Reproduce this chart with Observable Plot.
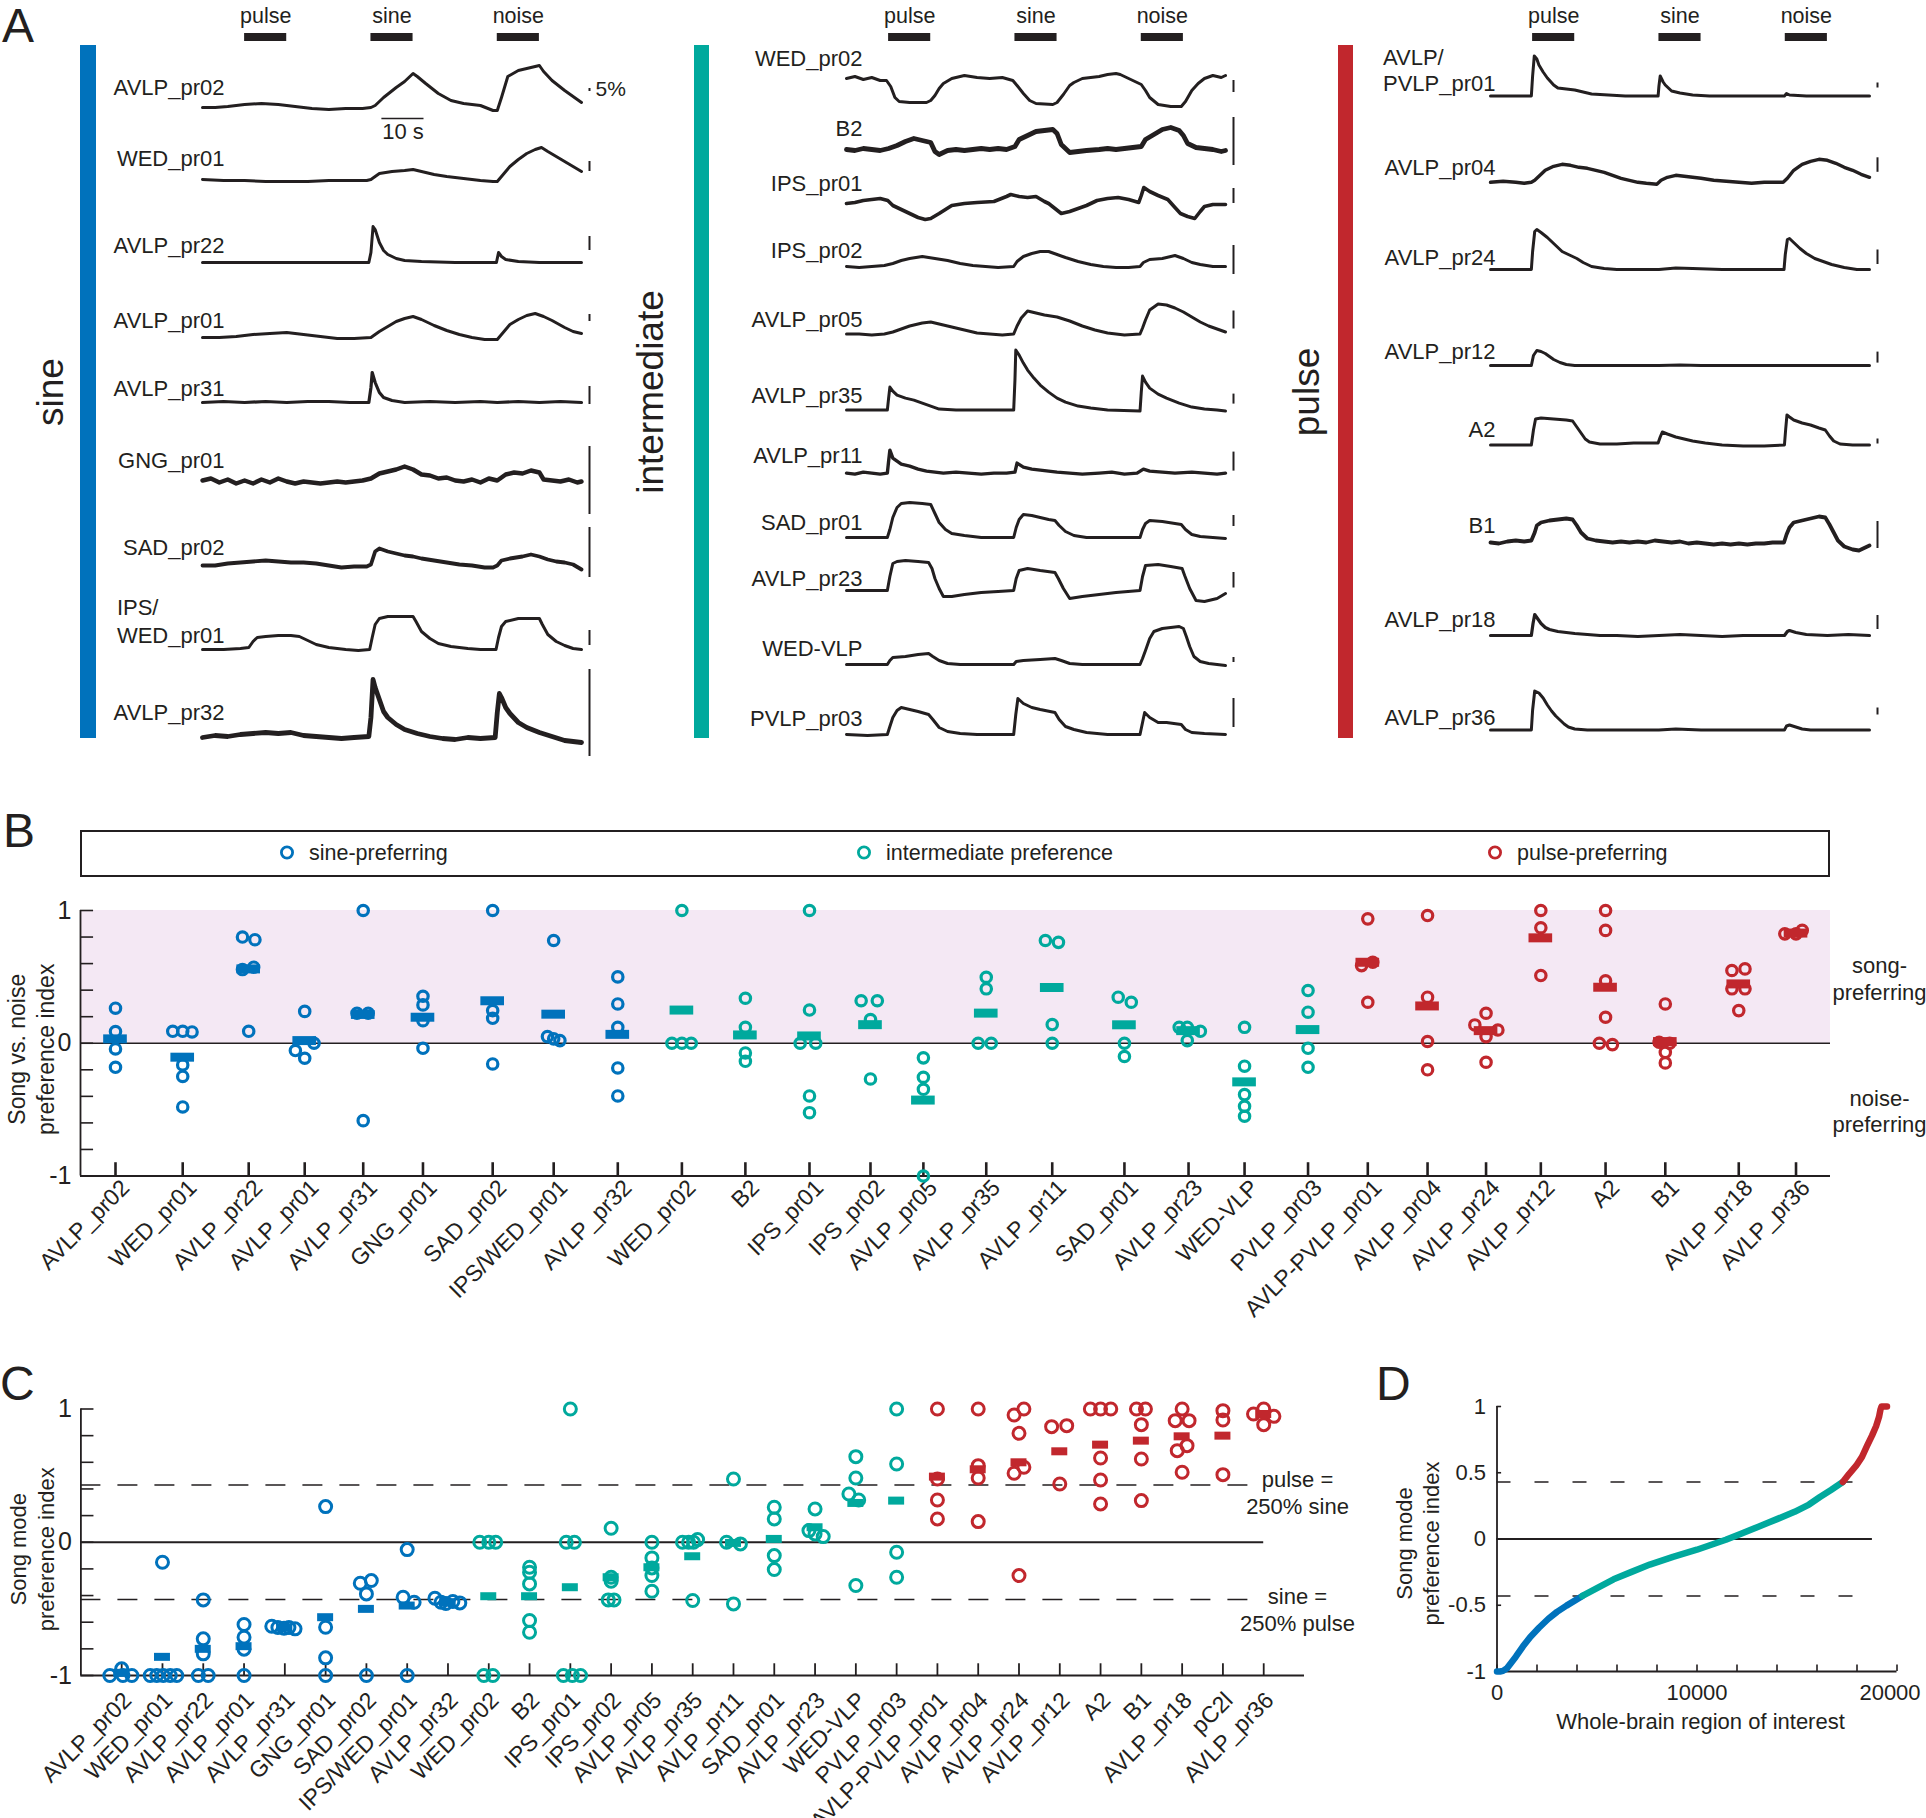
<!DOCTYPE html>
<html><head><meta charset="utf-8">
<script src="https://cdn.jsdelivr.net/npm/d3@7"></script>
<script src="https://cdn.jsdelivr.net/npm/@observablehq/plot@0.6"></script>
<style>
body{margin:0;background:#fff;font-family:'Liberation Sans',Arial,Helvetica,sans-serif;color:#231f20;}
#page{position:relative;width:1926px;height:1818px;overflow:hidden;background:#fff;}
.letter{position:absolute;font-size:48px;line-height:48px;white-space:nowrap;}
.grp{position:absolute;font-size:37px;line-height:37px;white-space:nowrap;transform:translate(-50%,-50%) rotate(-90deg);}
</style></head>
<body><div id="page"></div>
<script>
// ===================== DATA =====================
// ---- Panel A: stimulus epochs (s) ----
const stimuli = [
  {name: "pulse", start: 10, end: 20},
  {name: "sine", start: 40, end: 50},
  {name: "noise", start: 70, end: 80}
];
const sineNames = ["AVLP_pr02","WED_pr01","AVLP_pr22","AVLP_pr01","AVLP_pr31","GNG_pr01","SAD_pr02","IPS/WED_pr01","AVLP_pr32"];
const intermediateNames = ["WED_pr02","B2","IPS_pr01","IPS_pr02","AVLP_pr05","AVLP_pr35","AVLP_pr11","SAD_pr01","AVLP_pr23","WED-VLP","PVLP_pr03"];
const pulseNames = ["AVLP/PVLP_pr01","AVLP_pr04","AVLP_pr24","AVLP_pr12","A2","B1","AVLP_pr18","AVLP_pr36"];

// ---- Panel A traces: [time (s), ΔF/F in row display units] ----
const trAVLP_pr02 = [[0,0],[3,0],[6,1],[10,3],[14,4],[18,3],[22,1],[26,-1],[30,-2],[34,-1],[38,-1],[40,0],[41,2],[43,10],[46,20],[48,26],[50,34],[51,31],[53,24],[56,14],[59,7],[62,4],[66,2],[69,-3],[70,-3],[71,10],[72.5,31],[75,37],[78,40],[80,42],[81,36],[83,27],[86,17],[88,11],[90,5]];
const trWED_pr01 = [[0,0],[5,-1],[10,-1],[15,-2],[20,-2],[25,-2],[30,-1],[35,-1],[39,-1],[40,0],[42,6],[45,8],[48,9],[50,10],[52,8],[55,5],[58,3],[62,1],[66,-1],[69,-2],[70,-2],[71,3],[73,13],[75,20],[77,26],[79,30],[80.5,32],[82,28],[84,23],[86,18],[88,13],[90,8]];
const trAVLP_pr22 = [[0,0],[10,0],[20,0],[30,0],[39.5,0],[40,10],[40.5,36],[41,33],[42,20],[43,12],[44,8],[46,4],[48,2],[52,1],[60,0],[69.8,0],[70.3,10],[71,6],[72,3],[75,1],[80,0],[90,0]];
const trAVLP_pr01 = [[0,0],[4,0],[8,1],[12,3],[16,4],[20,5],[24,3],[28,1],[32,-1],[36,-1],[40,0],[42,6],[44,11],[46,16],[48,19],[50,21],[52,18],[55,12],[58,7],[61,3],[64,0],[67,-2],[70,-2],[71,3],[73,13],[75,18],[77,22],[79,24],[81,21],[83,17],[86,10],[88,6],[90,4]];
const trAVLP_pr31 = [[0,0],[5,1],[10,0],[15,1],[20,0],[25,1],[30,1],[35,0],[39.5,0],[40,15],[40.3,30],[41,20],[42,10],[43,5],[45,2],[48,0],[54,1],[60,0],[66,1],[70,0],[75,1],[80,0],[85,1],[90,0]];
const trGNG_pr01 = [[0,0],[2,2],[4,-2],[6,1],[8,-3],[10,0],[12,-3],[14,1],[16,-2],[18,2],[20,-1],[22,-3],[24,-1],[26,-2],[28,-3],[30,-2],[32,-1],[34,-2],[36,-1],[38,0],[40,2],[42,7],[44,9],[46,11],[48,14],[50,11],[52,6],[54,5],[56,2],[58,3],[60,0],[62,-1],[64,1],[66,-2],[68,2],[70,0],[72,6],[74,8],[76,7],[78,10],[80,8],[81,1],[83,0],[85,-1],[87,1],[89,-2],[90,-1]];
const trSAD_pr02 = [[0,0],[3,0],[6,2],[9,3],[12,4],[15,5],[18,4],[21,3],[24,3],[27,2],[30,0],[33,-2],[36,-1],[39,-1],[40,1],[41,14],[42,17],[44,14],[46,12],[48,10],[50,9],[52,7],[55,5],[58,3],[61,1],[64,0],[67,-2],[69,-2],[70,0],[71,5],[73,7],[76,9],[78,11],[80,9],[82,6],[84,4],[86,3],[88,1],[90,-4]];
const trIPS_WED_pr01 = [[0,0],[5,0],[9,1],[11,2],[12,8],[13,12],[15,13],[18,14],[21,14],[23,13],[25,9],[27,5],[30,2],[34,0],[37,-1],[39.7,0],[40.3,12],[41,25],[42,31],[44,33],[47,33],[50,33],[50.7,28],[52,18],[54,11],[56,6],[59,3],[63,1],[66,0],[69.7,0],[70.3,12],[71,23],[72,28],[75,31],[78,31],[80,31],[80.7,25],[82,15],[84,8],[86,4],[88,1],[90,0]];
const trAVLP_pr32 = [[0,0],[3,2],[6,1],[9,3],[12,4],[15,5],[18,4],[21,5],[24,2],[27,1],[30,0],[33,-1],[36,0],[39.5,1],[40,20],[40.5,58],[41,50],[42,38],[43,26],[44,20],[46,13],[48,8],[51,4],[54,1],[57,-1],[60,-2],[63,0],[66,-1],[69.5,0],[70,25],[70.5,44],[71,40],[72,30],[73,24],[75,15],[77,10],[80,5],[83,1],[86,-3],[90,-5]];

const trWED_pr02 = [[0,2],[2,4],[4,1],[6,3],[8,0],[9.5,0],[10.5,-6],[11.5,-17],[12.5,-21],[15,-22],[19,-22],[20,-20],[21,-15],[22,-8],[23,-3],[25,2],[28,5],[31,3],[34,2],[37,3],[39.5,0],[40.5,-5],[42,-13],[43.5,-20],[45,-23],[49,-24],[50,-22],[51.5,-14],[53,-5],[54,-2],[56,2],[58,3],[60,4],[62,6],[64,7],[65,6],[67,2],[69,-2],[70,-4],[71,-10],[72,-17],[74,-24],[77,-26],[79.5,-26],[80.5,-21],[82,-10],[83.5,-3],[85,2],[87,5],[89,3],[90,5]];
const trB2 = [[0,0],[2,-1],[4,1],[6,0],[8,-1],[10,1],[12,4],[14,8],[16,11],[18,9],[20,7],[21,-2],[22,-5],[24,-1],[26,0],[28,-1],[30,0],[32,1],[34,0],[36,1],[38,0],[40,3],[41,10],[43,14],[45,18],[47,19],[49,20],[50,16],[51,5],[53,-3],[55,-2],[57,-1],[60,0],[62,1],[64,0],[66,1],[68,2],[70,3],[71,10],[73,15],[75,20],[77,22],[79,19],[80,14],[81,6],[83,2],[85,1],[87,0],[89,-2],[90,-1]];
const trIPS_pr01 = [[0,0],[2,1],[4,3],[6,4],[8,5],[9.8,3],[11,-2],[13,-6],[15,-10],[17,-14],[18.7,-16],[20,-15],[22,-10],[25,-2],[28,0],[31,1],[35,2],[38,7],[39,9],[41,7],[43,6],[45,7],[47,2],[48,0],[49.5,-5],[51,-10],[53,-8],[55,-5],[57,-2],[59.5,3],[62,5],[64.5,6],[67,4],[69.4,1],[70,8],[70.6,16],[72,12],[74,8],[76.3,4],[78,-4],[79.3,-10],[81,-13],[82.7,-15],[84,-8],[85,-3],[87,-1],[90,-1]];
const trIPS_pr02 = [[0,0],[3,-1],[6,0],[9,1],[11,3],[13,6],[15,8],[18,10],[21,8],[24,6],[27,3],[30,1],[33,0],[36,-1],[39.7,0],[40.5,5],[42,10],[44,13],[46,15],[48,15],[50,12],[52,9],[55,5],[58,2],[61,0],[64,-1],[67,-1],[69.7,0],[70.5,4],[72,7],[75,8],[78,11],[80,8],[82,4],[84,2],[87,0],[90,0]];
const trAVLP_pr05 = [[0,0],[3,0],[6,-1],[9,0],[11,2],[13,5],[15,8],[18,11],[20,12],[22,10],[25,7],[28,4],[31,1],[34,0],[37,-1],[39.7,0],[40.5,8],[41.5,16],[43,23],[45,21],[47,19],[50,17],[53,13],[56,8],[59,4],[62,1],[66,-1],[69.7,0],[70.3,6],[71,14],[72,24],[74,30],[76,29],[78,26],[80,22],[82,17],[84,12],[86,8],[88,5],[90,2]];
const trAVLP_pr35 = [[0,0],[9.7,0],[10,12],[10.3,23],[11,19],[12,15],[14,12],[16,10],[18,7],[20,4],[22,1],[26,0],[30,0],[39.7,0],[40,30],[40.2,60],[41,55],[42,47],[43,40],[44.5,32],[46,25],[48,18],[50,12],[52,8],[55,4],[58,2],[62,0],[69.7,-1],[70,18],[70.3,34],[71,28],[72,22],[74,16],[76,12],[79,7],[82,3],[85,1],[88,0],[90,-1]];
const trAVLP_pr11 = [[0,0],[2,-1],[4,1],[6,0],[8,-1],[9.7,0],[10,12],[10.3,23],[11,15],[12,12],[13,9],[15,7],[17,4],[19,2],[21,1],[23,0],[26,1],[29,0],[32,-1],[35,0],[38,0],[40,1],[40.5,10],[42,6],[44,4],[46,3],[48,2],[50,1],[53,0],[56,-1],[60,0],[63,1],[66,-1],[69,0],[70.5,4],[72,2],[75,1],[78,0],[82,1],[85,0],[88,-1],[90,0]];
const trSAD_pr01 = [[0,0],[5,0],[9.7,0],[10.3,8],[11,20],[12,30],[13,34],[15,35],[18,34],[20,33],[21,24],[22,15],[23.5,8],[25,4],[28,2],[32,0],[39.7,0],[40.3,10],[41,18],[42,23],[44,22],[46,20],[48,18],[49.5,17],[50.5,12],[52,6],[54,2],[57,0],[69.7,0],[70.3,8],[71,14],[72,17],[75,16],[78,14],[79.5,13],[80.5,8],[82,3],[84,1],[87,0],[90,-1]];
const trAVLP_pr23 = [[0,0],[5,0],[9.7,0],[10.3,14],[11,27],[12,29],[14,30],[17,29],[19.5,28],[20.3,22],[21,12],[22,2],[23,-6],[25,-6],[28,-4],[32,-2],[36,-1],[39.7,0],[40.3,12],[41,20],[43,22],[46,20],[49.5,18],[50.3,12],[51.5,2],[53,-8],[56,-6],[60,-4],[64,-2],[69.7,0],[70.3,14],[71,25],[74,26],[77,24],[79.7,22],[80.3,15],[81.5,2],[83,-10],[85,-11],[88,-8],[90,-3]];
const trWED_VLP = [[0,0],[9.7,0],[10.3,4],[11,7],[14,8],[17,10],[19.5,11],[20.5,8],[22,4],[24,1],[27,0],[39.7,0],[40.3,3],[42,4],[46,5],[49.5,6],[51,4],[53,1],[56,0],[69.7,0],[70.3,6],[71,14],[72,26],[73,33],[75,36],[77,37],[79,38],[80,36],[80.7,28],[81.5,18],[82.5,8],[84,3],[86,1],[90,-1]];
const trPVLP_pr03 = [[0,0],[5,-1],[9.7,0],[10.3,8],[11,17],[12,24],[13,27],[15,25],[17,23],[19.5,20],[20.5,15],[22,7],[24,3],[27,1],[31,0],[39.7,0],[40.2,20],[40.7,36],[42,31],[44,27],[46,25],[49.5,22],[50.5,15],[52,8],[54,5],[57,2],[62,0],[69.7,0],[70.3,12],[70.8,22],[72,17],[74,12],[76,12],[79.5,10],[80.5,5],[82,2],[85,1],[90,0]];

const trAVLP_PVLP_pr01 = [[0,0],[9.7,0],[10,20],[10.4,40],[11,37],[11.5,31],[12.5,24],[13.5,18],[15,11],[16,8],[18,7],[20,6],[22,4],[24,2],[28,1],[32,0],[39.8,0],[40,10],[40.3,20],[41,14],[41.5,11],[43,5],[45,3],[48,1],[52,0],[69.8,0],[70.3,2.5],[71,1],[75,0],[90,0]];
const trAVLP_pr04 = [[0,0],[3,1],[6,0],[8,-1],[9.7,0],[10.5,2],[11.5,6],[13,12],[15,16],[17,18],[19,17],[21,15],[23,14],[25,12],[27,10],[29,7],[31,4],[33,2],[35,0],[37,-1],[39.5,-2],[40.5,2],[42,5],[44,7],[46,6],[48,5],[50,4],[53,2],[56,1],[59,0],[62,-1],[65,0],[69.5,0],[70.5,4],[72,12],[74,18],[76,21],[78,23],[80,22],[82,19],[84,15],[86,12],[88,8],[90,5]];
const trAVLP_pr24 = [[0,0],[9.7,0],[10,18],[10.5,38],[11,40],[12,37],[13.5,32],[15,26],[17,18],[19,14],[20.5,11],[22,7],[24,3],[27,1],[30,0],[40,0],[44,1.5],[48,1],[55,0],[69.7,0],[70,15],[70.5,30],[71,31],[72,27],[73.5,21],[75,16],[77,11],[79,8],[81,5],[84,2],[87,0],[90,0]];
const trAVLP_pr12 = [[0,0],[9.7,0],[10.2,10],[11,15],[12,14],[13,12],[14,9],[15,6],[16.5,3],[18,1],[20,0],[40,0],[45,0.5],[50,0],[70,0],[90,0]];
const trA2 = [[0,0],[5,0],[9.7,0],[10.2,15],[10.7,26],[12,27],[15,26],[18,25],[19.5,24],[20.5,18],[21.5,12],[22.5,6],[23.5,3],[26,1],[30,1],[34,2],[38,2],[39.8,2],[40.3,8],[40.8,13],[42,11],[44,8],[46,6],[48,4],[51,2],[55,0],[60,-1],[65,-1],[69.8,0],[70.1,16],[70.4,30],[71,28],[72,25],[74,22],[76,20],[78,17],[79.5,15],[80.5,9],[81.5,4],[83,1],[86,0],[90,0]];
const trB1 = [[0,0],[2,-1],[4,1],[6,2],[8,1],[9.7,2],[10.5,10],[11,17],[12,20],[14,22],[16,23],[18,24],[19.5,23],[20.5,17],[21.5,10],[23,4],[25,2],[27,1],[29,0],[31,1],[33,0],[35,1],[37,0],[39,2],[41,1],[43,0],[45,1],[47,-1],[49,0],[51,-1],[53,-2],[55,-1],[57,-2],[59,-1],[61,-2],[63,-1],[65,-1],[67,0],[69.7,0],[70.3,8],[71,15],[72,20],[74,22],[76,24],[78,26],[79.5,25],[80.5,18],[81.5,10],[82.5,2],[84,-4],[86,-7],[87.5,-8],[89,-5],[90,-3]];
const trAVLP_pr18 = [[0,0],[9.7,0],[10.1,12],[10.5,21],[11,18],[12,12],[13,8],[14,6],[16,4],[18,3],[20,2],[23,1],[26,0],[30,0],[35,-1],[40,0],[45,1],[50,0],[55,-1],[60,0],[65,0],[69.8,0],[70.5,4],[71,5],[72.5,3],[75,1],[80,0],[85,1],[90,0]];
const trAVLP_pr36 = [[0,0],[9.7,0],[10,20],[10.5,39],[11.5,37],[12.5,32],[13.5,25],[14.5,19],[15.5,14],[16.5,10],[17.5,6],[18.5,3],[20,1],[23,0],[40,0],[44,1],[50,0],[69.8,0],[70.3,4],[71,5],[72.5,3],[74,1],[76,0],[90,0]];

const sineTraces = [trAVLP_pr02, trWED_pr01, trAVLP_pr22, trAVLP_pr01, trAVLP_pr31, trGNG_pr01, trSAD_pr02, trIPS_WED_pr01, trAVLP_pr32];
const intermediateTraces = [trWED_pr02, trB2, trIPS_pr01, trIPS_pr02, trAVLP_pr05, trAVLP_pr35, trAVLP_pr11, trSAD_pr01, trAVLP_pr23, trWED_VLP, trPVLP_pr03];
const pulseTraces = [trAVLP_PVLP_pr01, trAVLP_pr04, trAVLP_pr24, trAVLP_pr12, trA2, trB1, trAVLP_pr18, trAVLP_pr36];

// ---- Panel B: song vs. noise preference index ----
const bCategories = ["AVLP_pr02","WED_pr01","AVLP_pr22","AVLP_pr01","AVLP_pr31","GNG_pr01","SAD_pr02","IPS/WED_pr01","AVLP_pr32","WED_pr02","B2","IPS_pr01","IPS_pr02","AVLP_pr05","AVLP_pr35","AVLP_pr11","SAD_pr01","AVLP_pr23","WED-VLP","PVLP_pr03","AVLP-PVLP_pr01","AVLP_pr04","AVLP_pr24","AVLP_pr12","A2","B1","AVLP_pr18","AVLP_pr36"];
const bGroupCounts = {sine: 9, intermediate: 11, pulse: 8};
const bPositions = [1.00,2.08,3.14,4.04,4.98,5.94,7.06,8.04,9.07,10.10,11.12,12.15,13.13,13.98,14.99,16.05,17.21,18.24,19.14,20.16,21.12,22.08,23.02,23.90,24.94,25.90,27.08,28.00];
const bValues = [
  [0.264,0.088,-0.043,-0.181],
  [0.09,0.09,0.085,-0.163,-0.25,-0.48],
  [0.80,0.78,0.555,0.573,0.09],
  [0.24,-0.055,-0.113,0.0],
  [1.0,0.226,0.226,-0.583],
  [0.354,0.289,0.17,-0.038],
  [1.0,0.246,0.188,-0.156],
  [0.774,0.05,0.033,0.02],
  [0.50,0.296,0.12,-0.186,-0.397],
  [1.0,0,0,0],
  [0.339,0.12,-0.073,-0.136],
  [1.0,0.25,0,0,-0.397,-0.523],
  [0.32,0.32,0.178,-0.269],
  [-0.11,-0.256,-0.347,-1.0],
  [0.497,0.41,0,0],
  [0.774,0.76,0.141,0],
  [0.347,0.309,0,-0.1],
  [0.12,0.12,0.09,0.02],
  [0.12,-0.173,-0.387,-0.475,-0.55],
  [0.397,0.234,-0.038,-0.181],
  [0.937,0.61,0.585,0.309],
  [0.962,0.347,0.013,-0.2],
  [0.226,0.138,0.1,0.05,-0.143],
  [1.0,0.87,0.51],
  [1.0,0.85,0.47,0.196,0,-0.01],
  [0.296,0.008,0,-0.068,-0.148],
  [0.548,0.56,0.41,0.41,0.246],
  [0.824,0.824,0.85]
];
const bJitter = [
  [],[-0.16,0,0.15],[-0.1,0.1,-0.1,0.08],[0,-0.15,0,0.15],[0,-0.1,0.08],[],[],[0,-0.1,0,0.1],[],
  [0,-0.16,0,0.15],[],[0,0,-0.15,0.1],[-0.15,0.11],[],[0,0,-0.13,0.08],[-0.11,0.1],[-0.1,0.11],[-0.15,-0.02,0.19,-0.02],[],[],
  [0,0.08,-0.1],[],[0,-0.18,0.19],[],[0,0,0,0,-0.1,0.11],[0,-0.1,0.07],[-0.11,0.1,-0.11,0.1],[-0.18,0,0.1]
];
const bMeans = [0.033,-0.105,0.56,0.02,0.217,0.196,0.32,0.219,0.067,0.25,0.0625,0.055,0.14,-0.428,0.227,0.42,0.139,0.095,-0.291,0.103,0.61,0.281,0.095,0.794,0.422,0.0126,0.447,0.83];
const bYTicks = [-1,-0.8,-0.6,-0.4,-0.2,0,0.2,0.4,0.6,0.8,1];
const bYLabels = [-1, 0, 1];

// ---- Panel C: song mode preference index ----
const cCategories = ["AVLP_pr02","WED_pr01","AVLP_pr22","AVLP_pr01","AVLP_pr31","GNG_pr01","SAD_pr02","IPS/WED_pr01","AVLP_pr32","WED_pr02","B2","IPS_pr01","IPS_pr02","AVLP_pr05","AVLP_pr35","AVLP_pr11","SAD_pr01","AVLP_pr23","WED-VLP","PVLP_pr03","AVLP-PVLP_pr01","AVLP_pr04","AVLP_pr24","AVLP_pr12","A2","B1","AVLP_pr18","pC2l","AVLP_pr36"];
const cGroupCounts = {sine: 9, intermediate: 11, pulse: 9};
const cValues = [
  [-1,-1,-1,-0.95],
  [-1,-1,-1,-1,-1,-0.15],
  [-0.4325,-0.725,-0.8375,-1,-1],
  [-0.6175,-0.7125,-0.8025,-1],
  [-0.63,-0.64,-0.645,-0.64,-0.65],
  [0.2675,-0.6375,-0.8675,-1],
  [-0.2875,-0.3075,-0.3875,-1],
  [-0.055,-0.4125,-0.45,-1],
  [-0.42,-0.45,-0.46,-0.445,-0.455],
  [0,0,0,-1,-1],
  [-0.1875,-0.225,-0.3125,-0.5875,-0.675],
  [1,0,0,-1,-1,-1],
  [0.105,-0.2625,-0.2925,-0.4325,-0.4325],
  [0,-0.1175,-0.1925,-0.25,-0.3675],
  [0,0,0,0.02,-0.4375],
  [0.475,0,-0.0125,-0.4625],
  [0.2625,0.175,-0.1,-0.205],
  [0.25,0.0875,0.0625,0.0425],
  [0.6425,0.4825,0.3625,0.3175,-0.325],
  [1,0.5875,-0.075,-0.2625],
  [1,0.475,0.3175,0.175],
  [1,0.575,0.4825,0.155],
  [1,0.955,0.8175,0.5625,0.5175,-0.25],
  [0.8675,0.875,0.4375],
  [1,1,1,0.6325,0.4675,0.2875],
  [1,1,0.8825,0.625,0.3125],
  [1,0.9125,0.9125,0.725,0.6875,0.525],
  [0.9875,0.9175,0.5075],
  [1,0.9625,0.945,0.8825]
];
const cJitter = [
  [-0.29,0.03,0.25,0],[-0.3,-0.14,0.02,0.19,0.35,0],[0,0,0,-0.12,0.12],[],[-0.32,-0.17,-0.02,0.1,0.25],[],[0.12,-0.15],[0,-0.1,0.17],[-0.32,-0.17,-0.05,0.12,0.29],
  [-0.22,0,0.17,-0.12,0.1],[],[0,-0.1,0.1,-0.17,0.05,0.25],[0,0,0,-0.07,0.07],[],[-0.25,-0.1,0.02,0.12],[0,-0.17,0.17],[],[0,-0.15,0,0.2],[0,0,-0.17,0.07],[],
  [],[],[0.12,-0.12,0,0.12,-0.12],[-0.2,0.17],[-0.25,0,0.25],[-0.12,0.1],[0,-0.17,0.17,0.12,-0.12],[],[0,-0.25,0.25]
];
const cMeans = [-0.98,-0.86,-0.8,-0.78,-0.64,-0.5625,-0.5,-0.475,-0.45,-0.405,-0.405,-0.3375,-0.2625,-0.1875,-0.105,-0.005,0.025,0.1125,0.295,0.3125,0.4925,0.5475,0.6,0.6825,0.7325,0.7625,0.795,0.8,0.9625];
const cYTicks = [-1,-0.8,-0.6,-0.4,-0.2,0,0.2,0.4,0.6,0.8,1];
const cYLabels = [-1, 0, 1];
const modeThreshold = 0.43; // 250 % criterion

// ---- Panel D: sorted whole-brain ROI song mode preference ----
const dRoi = [0,150,300,500,941,1300,1665,2100,2570,3000,3476,4270,5000,5829,6700,7640,8800,9993,11441,12200,13070,14000,14880,15600,16148,16700,17290,17600,17958,18250,18501,18750,18954,19100,19171,19226,19500];
const dIndex = [-1,-1,-0.995,-0.975,-0.888,-0.81,-0.739,-0.67,-0.602,-0.55,-0.503,-0.43,-0.37,-0.304,-0.25,-0.193,-0.135,-0.081,-0.006,0.04,0.093,0.15,0.205,0.26,0.317,0.37,0.43,0.49,0.553,0.62,0.702,0.78,0.851,0.92,0.975,1,1];
const dXTicks = [0,2000,4000,6000,8000,10000,12000,14000,16000,18000,20000];
const dXLabels = [0,10000,20000];
const dYTicks = [-1,-0.5,0,0.5,1];

// ===================== RENDER =====================
const INK = "#231f20";
const FONT = "'Liberation Sans', Arial, Helvetica, sans-serif";
const groupColor = {sine: "#0072bc", intermediate: "#00a99d", pulse: "#c1272d"};
const PINK = "#f4e8f4";
const page = document.getElementById("page");
const baseStyle = {fontFamily: FONT, fontSize: "22px", color: INK, background: "none", overflow: "visible", maxWidth: "none"};
function place(node, left, top) {
  const d = document.createElement("div");
  d.style.cssText = `position:absolute;left:${left}px;top:${top}px;`;
  d.appendChild(node); page.appendChild(d); return d;
}
function html(cls, text, css) {
  const d = document.createElement("div"); d.className = cls; d.textContent = text; d.style.cssText = css; page.appendChild(d); return d;
}
const cv = document.createElement("canvas").getContext("2d");
cv.font = "22px 'Liberation Sans'";
const tw = s => cv.measureText(s).width;
const expandGroups = counts => Object.entries(counts).flatMap(([g, n]) => Array(n).fill(g));

// ---------- Panel A ----------
const columns = [
  {names: sineNames, traces: sineTraces, group: "sine", left: 0, width: 640, t0px: 202, t1px: 581, labelRight: 224, barX: 589,
   bandX: 80, bandW: 16, groupX: 50, groupLabel: "sine",
   baselines: [107,179,262,337,402,480,565,649,737],
   labelYs: [87,158.5,245,320,388,460.5,547,635,712.5], firstLine: {7: 607},
   bars: [[3,-16],[10,-8],[14,-12],[7,-16],[18,2],[68,34],[50,12],[15,-4],[87,19]],
   widths: [3,3,3,3,3.2,4.4,3.8,3,4.8]},
  {names: intermediateNames, traces: intermediateTraces, group: "intermediate", left: 640, width: 640, t0px: 846, t1px: 1225, labelRight: 862, barX: 1233,
   bandX: 694, bandW: 15, groupX: 650, groupLabel: "intermediate",
   baselines: [80,149,203,266,333.5,409.6,472.6,537,590,664,734],
   labelYs: [58,128.5,183,250,319,395,455.6,522.5,578,648.5,718], firstLine: {},
   bars: [[12,12],[48,16],[15,0],[29,8],[18,-5],[10,-6],[19,-2],[11,-11],[15.5,-2.5],[5,-2],[29,-7]],
   widths: [3,4.8,3.6,3,3,3,3.4,3,3,3,3]},
  {names: pulseNames, traces: pulseTraces, group: "pulse", left: 1280, width: 646, t0px: 1490, t1px: 1869, labelRight: 1495, barX: 1877,
   bandX: 1338, bandW: 15, groupX: 1306, groupLabel: "pulse",
   baselines: [95.5,181.8,269,365,444.5,542,635,729.5],
   labelYs: [83.4,167,257,351.4,429,525,619.5,717], firstLine: {0: 57},
   bars: [[5,-8],[14.5,-10],[14.5,-5],[11,-2.4],[5,-1],[27,6],[14,-6],[7,-15]],
   widths: [3,3.4,3,3,3,3.8,3.2,3]}
];

columns.forEach((col, ci) => {
  const rows = col.names.map((n, i) => i);
  const labelDx = col.labelRight - col.t0px;
  const second = i => col.firstLine[i] != null ? col.names[i].slice(col.names[i].indexOf("/") + 1) : col.names[i];
  const marks = [];
  col.traces.forEach((tr, i) => {
    const base = col.baselines[i];
    marks.push(Plot.line(tr, {x: d => d[0], y: d => base - d[1], stroke: INK, strokeWidth: col.widths[i], strokeLinejoin: "round", strokeLinecap: "round"}));
  });
  marks.push(Plot.text(rows, {x: () => 0, y: i => col.labelYs[i], text: i => second(i), textAnchor: "end", dx: labelDx, fontSize: 22, fill: INK}));
  Object.keys(col.firstLine).forEach(k => {
    const i = +k, full = col.names[i], first = full.slice(0, full.indexOf("/") + 1);
    marks.push(Plot.text([i], {x: () => 0, y: () => col.firstLine[i], text: () => first, textAnchor: "end", dx: labelDx - (tw(second(i)) - tw(first)), fontSize: 22, fill: INK}));
  });
  marks.push(Plot.ruleX(rows, {x: () => 90, y1: i => col.baselines[i] + col.bars[i][1] - col.bars[i][0], y2: i => col.baselines[i] + col.bars[i][1], dx: col.barX - col.t1px, stroke: INK, strokeWidth: 2}));
  marks.push(Plot.rect(stimuli, {x1: "start", x2: "end", y1: () => 33, y2: () => 41, fill: INK}));
  marks.push(Plot.text(stimuli, {x: d => (d.start + d.end) / 2, y: () => 16, text: "name", fontSize: 21.5, fill: INK}));
  if (ci === 0) {
    marks.push(Plot.text(["5%"], {x: () => 90, y: () => 88.5, text: d => d, textAnchor: "start", dx: 14, fontSize: 21, fill: INK}));
    marks.push(Plot.ruleY([10], {x1: () => 42.6, x2: d => 42.6 + d, y: () => 118, stroke: INK, strokeWidth: 1.6}));
    marks.push(Plot.text(["10 s"], {x: () => 47.6, y: () => 131, text: d => d, fontSize: 22, fill: INK}));
  }
  const svg = Plot.plot({
    width: col.width, height: 760, margin: 0,
    style: baseStyle,
    x: {domain: [0, 90], range: [col.t0px - col.left, col.t1px - col.left], axis: null, label: null},
    y: {domain: [0, 760], range: [0, 760], axis: null, label: null},
    marks
  });
  place(svg, col.left, 0);
  const band = document.createElement("div");
  band.style.cssText = `position:absolute;left:${col.bandX}px;top:45px;width:${col.bandW}px;height:693px;background:${groupColor[col.group]};`;
  page.appendChild(band);
  html("grp", col.groupLabel, `left:${col.groupX}px;top:392px;`);
});

// ---------- Panel B ----------
{
  const groups = expandGroups(bGroupCounts);
  const dots = bCategories.flatMap((c, i) => bValues[i].map((v, k) => ({x: bPositions[i] + ((bJitter[i] || [])[k] || 0), y: v, g: groups[i]})));
  const bars = bCategories.map((c, i) => ({x: bPositions[i], y: bMeans[i], g: groups[i]}));
  const x0 = 0.4377, x1 = 28.554;
  const svg = Plot.plot({
    width: 1926, height: 450, marginLeft: 80, marginRight: 96, marginTop: 20, marginBottom: 164.5,
    style: baseStyle,
    x: {domain: [x0, x1], range: [80, 1830], label: null},
    y: {domain: [-1, 1], range: [285.5, 20], label: null},
    color: {type: "identity"},
    marks: [
      Plot.rect([0], {x1: () => x0, x2: () => x1, y1: () => 0, y2: () => 1, fill: PINK}),
      Plot.ruleY([0], {x1: () => x0, x2: () => x1, stroke: INK, strokeWidth: 1.6}),
      Plot.ruleY([-1], {x1: () => x0, x2: () => x1, stroke: INK, strokeWidth: 1.8}),
      Plot.ruleX([x0], {y1: () => -1, y2: () => 1, stroke: INK, strokeWidth: 1.8}),
      Plot.ruleY(bYTicks, {y: d => d, x1: () => x0, x2: () => x0 + 0.21, stroke: INK, strokeWidth: 1.6}),
      Plot.ruleX(bPositions, {x: d => d, y1: () => -1, y2: () => -0.9, stroke: INK, strokeWidth: 2.6}),
      Plot.axisY(bYLabels, {tickSize: 0, tickPadding: 9, fontSize: 25, label: null, tickFormat: d => String(d)}),
      Plot.axisX(bPositions, {tickSize: 0, tickPadding: 8, tickRotate: -45, fontSize: 23, dx: 10, label: null, tickFormat: d => bCategories[bPositions.indexOf(d)]}),
      Plot.dot(dots, {x: "x", y: "y", r: 5.2, stroke: d => groupColor[d.g], strokeWidth: 3.2, fill: "none"}),
      Plot.ruleY(bars, {y: "y", x1: d => d.x - 0.19, x2: d => d.x + 0.19, stroke: d => groupColor[d.g], strokeWidth: 9}),
      Plot.text(["Song vs. noise\npreference index"], {frameAnchor: "left", rotate: -90, textAnchor: "middle", lineAnchor: "middle", dx: -50, dy: 6, text: d => d, fontSize: 23, lineHeight: 1.22, fill: INK}),
      Plot.text([{y: 0.5, t: "song-\npreferring"}, {y: -0.5, t: "noise-\npreferring"}], {x: () => x1, y: "y", text: "t", dx: 49, dy: 1, fontSize: 22, lineHeight: 1.21, fill: INK})
    ]
  });
  place(svg, 0, 890);
  // legend box
  const lg = document.createElementNS("http://www.w3.org/2000/svg", "svg");
  lg.setAttribute("width", 1750); lg.setAttribute("height", 47);
  lg.style.cssText = "display:block;overflow:visible;";
  const items = [["sine", "sine-preferring", 207], ["intermediate", "intermediate preference", 784], ["pulse", "pulse-preferring", 1415]];
  let inner = `<rect x="1" y="1" width="1748" height="45" fill="none" stroke="${INK}" stroke-width="2"/>`;
  items.forEach(([g, label, cx]) => {
    inner += `<circle cx="${cx}" cy="22.5" r="5.6" fill="none" stroke="${groupColor[g]}" stroke-width="2.8"/>`;
    inner += `<text x="${cx + 22}" y="22.5" dy="0.35em" font-size="21.5" font-family="${FONT.replace(/'/g, "")}" fill="${INK}">${label}</text>`;
  });
  lg.innerHTML = inner;
  place(lg, 80, 830);
}

// ---------- Panel C ----------
{
  const groups = expandGroups(cGroupCounts);
  const pos = cCategories.map((c, i) => i + 1);
  const dots = cCategories.flatMap((c, i) => cValues[i].map((v, k) => ({x: pos[i] + ((cJitter[i] || [])[k] || 0), y: v, g: groups[i]})));
  const bars = cCategories.map((c, i) => ({x: pos[i], y: cMeans[i], g: groups[i]}));
  const svg = Plot.plot({
    width: 1370, height: 438, marginLeft: 80.4, marginRight: 66, marginTop: 28.5, marginBottom: 143,
    style: baseStyle,
    x: {domain: [0, 30], range: [80.4, 1304], label: null},
    y: {domain: [-1, 1], range: [295, 28.5], label: null},
    color: {type: "identity"},
    marks: [
      Plot.ruleY([0], {x1: () => 0, x2: () => 29, stroke: INK, strokeWidth: 1.8}),
      Plot.ruleY([modeThreshold, -modeThreshold], {x1: () => 0, x2: () => 28.7, stroke: INK, strokeWidth: 1.6, strokeDasharray: "20,17"}),
      Plot.ruleX([0], {y1: () => -1, y2: () => 1, stroke: INK, strokeWidth: 1.8}),
      Plot.ruleY([-1], {x1: () => 0, x2: () => 30, stroke: INK, strokeWidth: 1.8}),
      Plot.ruleY(cYTicks, {y: d => d, x1: () => 0, x2: () => 0.32, stroke: INK, strokeWidth: 1.6}),
      Plot.ruleX(pos, {x: d => d, y1: () => -1, y2: () => -0.912, stroke: INK, strokeWidth: 1.8}),
      Plot.axisY(cYLabels, {tickSize: 0, tickPadding: 9, fontSize: 25, label: null, tickFormat: d => String(d)}),
      Plot.axisX(pos, {tickSize: 0, tickPadding: 21, tickRotate: -45, fontSize: 23, dx: 6, label: null, tickFormat: d => cCategories[d - 1]}),
      Plot.dot(dots, {x: "x", y: "y", r: 6, stroke: d => groupColor[d.g], strokeWidth: 3, fill: "none"}),
      Plot.ruleY(bars, {y: "y", x1: d => d.x - 0.196, x2: d => d.x + 0.196, stroke: d => groupColor[d.g], strokeWidth: 8}),
      Plot.text(["Song mode\npreference index"], {frameAnchor: "left", rotate: -90, textAnchor: "middle", lineAnchor: "middle", dx: -49.6, dy: 7, text: d => d, fontSize: 22, lineHeight: 1.25, fill: INK}),
      Plot.text([{y: modeThreshold, t: "pulse =\n250% sine"}], {x: () => 30, y: "y", text: "t", dx: -7, dy: 7, fontSize: 22, lineHeight: 1.23, fill: INK}),
      Plot.text([{y: -modeThreshold, t: "sine =\n250% pulse"}], {x: () => 30, y: "y", text: "t", dx: -7, dy: 9, fontSize: 22, lineHeight: 1.23, fill: INK})
    ]
  });
  place(svg, 0, 1380);
}

// ---------- Panel D ----------
{
  const pts = dRoi.map((x, i) => [x, dIndex[i]]);
  const blue = pts.filter(p => p[1] <= -modeThreshold);
  const teal = pts.filter(p => p[1] >= -modeThreshold && p[1] <= modeThreshold);
  const red = pts.filter(p => p[1] >= modeThreshold);
  const seg = (data, g) => Plot.line(data, {x: d => d[0], y: d => d[1], stroke: groupColor[g], strokeWidth: 6.5, strokeLinecap: "round", strokeLinejoin: "round"});
  const lastX = dXLabels[dXLabels.length - 1];
  const svg = Plot.plot({
    width: 546, height: 438, marginLeft: 116.5, marginRight: 29.5, marginTop: 26, marginBottom: 147,
    style: baseStyle,
    x: {domain: [0, 20000], range: [116.5, 516.5], label: null},
    y: {domain: [-1, 1], range: [291, 26], label: null},
    marks: [
      Plot.ruleY([0], {x1: () => 0, x2: () => 18770, stroke: INK, strokeWidth: 1.8}),
      Plot.ruleY([modeThreshold, -modeThreshold], {x1: () => 0, x2: () => 18410, stroke: INK, strokeWidth: 1.6, strokeDasharray: "14,24"}),
      Plot.ruleX([0], {y1: () => -1, y2: () => 1, stroke: INK, strokeWidth: 1.8}),
      Plot.ruleY([-1], {x1: () => 0, x2: () => 20000, stroke: INK, strokeWidth: 1.8}),
      Plot.ruleY(dYTicks, {y: d => d, x1: () => 0, x2: () => 230, stroke: INK, strokeWidth: 1.6}),
      Plot.ruleX(dXTicks, {x: d => d, y1: () => -1, y2: () => -0.95, stroke: INK, strokeWidth: 1.6}),
      Plot.axisY(dYTicks, {tickSize: 0, tickPadding: 11, fontSize: 22, label: null, tickFormat: d => String(d)}),
      Plot.axisX(dXLabels.slice(0, -1), {tickSize: 0, tickPadding: 13, fontSize: 22, label: null, tickFormat: d => String(d)}),
      Plot.axisX([lastX], {tickSize: 0, tickPadding: 13, fontSize: 22, label: null, dx: -7, tickFormat: d => String(d)}),
      seg(blue, "sine"), seg(teal, "intermediate"), seg(red, "pulse"),
      Plot.text(["Song mode\npreference index"], {frameAnchor: "left", rotate: -90, textAnchor: "middle", lineAnchor: "middle", dx: -80, dy: 4.5, text: d => d, fontSize: 22, lineHeight: 1.23, fill: INK}),
      Plot.text(["Whole-brain region of interest"], {frameAnchor: "bottom", textAnchor: "middle", lineAnchor: "middle", dx: 3.5, dy: 50, text: d => d, fontSize: 22, fill: INK})
    ]
  });
  place(svg, 1380, 1380);
}

// ---------- panel letters ----------
html("letter", "A", "left:2px;top:2px;");
html("letter", "B", "left:3px;top:807px;");
html("letter", "C", "left:0px;top:1360px;");
html("letter", "D", "left:1376px;top:1360px;");
</script>
</body></html>
